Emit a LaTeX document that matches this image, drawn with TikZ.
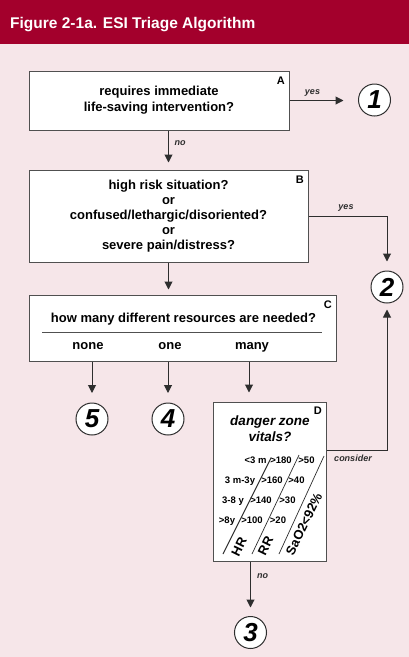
\documentclass[tikz,border=0pt]{standalone}
\usepackage{fontspec}
\setmainfont{Liberation Sans}
\usetikzlibrary{arrows.meta}
\definecolor{bgpink}{HTML}{F6E6E9}
\definecolor{titlered}{HTML}{A3002C}
\definecolor{linegray}{HTML}{2E2E2E}
\definecolor{boxgray}{HTML}{505050}
\begin{document}
\begin{tikzpicture}[x=1pt,y=-1pt,
  box/.style={draw=boxgray, line width=1pt, fill=white, inner sep=0pt, align=center},
  qtext/.style={font=\fontsize{13}{16}\selectfont\bfseries, inner sep=0pt, align=center},
  letter/.style={font=\fontsize{11}{11}\selectfont\bfseries, inner sep=0pt, anchor=north east},
  lbl/.style={font=\fontsize{9}{9}\selectfont\bfseries\itshape, text=linegray, inner sep=0pt},
  tbl/.style={font=\fontsize{9.5}{9.5}\selectfont\bfseries, inner sep=0pt, anchor=base},
  rot/.style={font=\fontsize{13}{13}\selectfont\bfseries, inner sep=0pt, rotate=64},
  numc/.style={circle, draw=linegray, line width=1pt, fill=white, minimum size=32pt, inner sep=0pt,
    font=\fontsize{26}{26}\selectfont\bfseries\itshape},
  arr/.style={draw=linegray, line width=1pt, -{Triangle[width=8pt,length=8pt]}},
  conn/.style={draw=linegray, line width=1pt}
]
% background and title bar
\fill[bgpink] (0,0) rectangle (409,657);
\useasboundingbox (0,0) rectangle (409,657);
\fill[titlered] (0,0) rectangle (409,44);
\node[anchor=base west, inner sep=0pt, text=white, font=\fontsize{15.5}{18}\selectfont\bfseries] (title) at (10,28) {Figure 2-1a. ESI Triage Algorithm};

% boxes
\node[box, qtext, minimum width=260pt, minimum height=59pt] (A) at (159,100.5) {requires immediate\\life-saving intervention?};
\node[letter] (LA) at (285,77) {A};

\node[box, font=\fontsize{13}{15}\selectfont\bfseries, minimum width=279pt, minimum height=92pt] (B) at (168.5,216) {high risk situation?\\or\\confused/lethargic/disoriented?\\or\\severe pain/distress?};
\node[letter] (LB) at (304,176) {B};

\node[box, minimum width=307pt, minimum height=66pt] (C) at (182.5,328) {};
\node[letter] (LC) at (332,301) {C};
\node[qtext, anchor=base] (Cq) at (183.5,322) {how many different resources are needed?};
\draw[draw=boxgray, line width=0.8pt] (42,332) -- (322,332);
\node[qtext, anchor=base] (Cnone) at (88,349) {none};
\node[qtext, anchor=base] (Cone) at (170,349) {one};
\node[qtext, anchor=base] (Cmany) at (252,349) {many};

\node[box, minimum width=113pt, minimum height=159pt] (D) at (269.5,481.5) {};
\node[letter] (LD) at (322,407) {D};
\node[font=\fontsize{13.5}{16}\selectfont\bfseries\itshape, inner sep=0pt, align=center] (Dq) at (270,429) {danger zone\\vitals?};

% table in D
\node[tbl] (r1a) at (255.5,463.5) {<3 m};
\node[tbl] (r1b) at (281,463.5) {>180};
\node[tbl] (r1c) at (306.5,463.5) {>50};
\node[tbl] (r2a) at (240,483.5) {3 m-3y};
\node[tbl] (r2b) at (272,483.5) {>160};
\node[tbl] (r2c) at (296.5,483.5) {>40};
\node[tbl] (r3a) at (233,503.5) {3-8 y};
\node[tbl] (r3b) at (261,503.5) {>140};
\node[tbl] (r3c) at (287.5,503.5) {>30};
\node[tbl] (r4a) at (227,523.5) {>8y};
\node[tbl] (r4b) at (252,523.5) {>100};
\node[tbl] (r4c) at (278,523.5) {>20};
\draw[draw=linegray, line width=1pt] (223,554) -- (271,458);
\draw[draw=linegray, line width=0.7pt] (252,554) -- (299,455);
\draw[draw=linegray, line width=0.7pt] (279,554) -- (324,456);
\node[rot] (HR) at (239,547) {HR};
\node[rot] (RR) at (265.5,546) {RR};
\node[rot] (Sa) at (304,524) {SaO2<92\%};

% outcome circles
\node[numc] (n1) at (374.5,100) {1};
\node[numc] (n2) at (387,287) {2};
\node[numc] (n5) at (92,419) {5};
\node[numc] (n4) at (168,419) {4};
\node[numc] (n3) at (250.5,632.5) {3};

% connectors
\draw[arr, shorten >=14.5pt] (A.east) -- (A.east -| n1.west);
\node[lbl] (yesA) at (312.5,93) {yes};
\draw[arr, shorten >=7pt] (A.south -| B.north) -- (B.north);
\node[lbl] (noA) at (180,143) {no};
\draw[arr, shorten >=9pt] (B.east) -- (B.east -| n2.north) -- (n2.north);
\node[lbl] (yesB) at (346,208) {yes};
\draw[arr, shorten >=5pt] (B.south) -- (B.south |- C.north);
\draw[arr, shorten >=9.5pt] (C.south -| n5.north) -- (n5.north);
\draw[arr, shorten >=9.5pt] (C.south -| n4.north) -- (n4.north);
\coordinate (mx) at (249,0);
\draw[arr, shorten >=9pt] (C.south -| mx) -- (D.north -| mx);
\coordinate (cy) at (0,450);
\draw[arr, shorten >=6pt] (D.east |- cy) -- (n2.south |- cy) -- (n2.south);
\node[lbl] (cons) at (353,458) {consider};
\draw[arr, shorten >=8.5pt] (D.south -| n3.north) -- (n3.north);
\node[lbl] (noD) at (262.5,576) {no};
\end{tikzpicture}
\end{document}
